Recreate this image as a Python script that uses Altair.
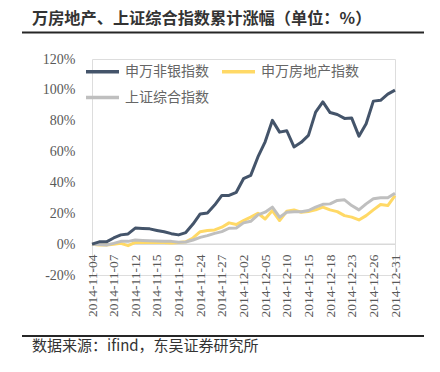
import altair as alt
import pandas as pd

dates = [
    "2014-11-04", "2014-11-05", "2014-11-06", "2014-11-07", "2014-11-10", "2014-11-11",
    "2014-11-12", "2014-11-13", "2014-11-14", "2014-11-15", "2014-11-17", "2014-11-18",
    "2014-11-19", "2014-11-20", "2014-11-21", "2014-11-24", "2014-11-25", "2014-11-26",
    "2014-11-27", "2014-11-28", "2014-12-01", "2014-12-02", "2014-12-03", "2014-12-04",
    "2014-12-05", "2014-12-08", "2014-12-09", "2014-12-10", "2014-12-11", "2014-12-12",
    "2014-12-15", "2014-12-16", "2014-12-17", "2014-12-18", "2014-12-19", "2014-12-22",
    "2014-12-23", "2014-12-24", "2014-12-25", "2014-12-26", "2014-12-29", "2014-12-30",
    "2014-12-31",
]
tick_labels = [
    "2014-11-04", "2014-11-07", "2014-11-12", "2014-11-15", "2014-11-19", "2014-11-24",
    "2014-11-27", "2014-12-02", "2014-12-05", "2014-12-10", "2014-12-15", "2014-12-18",
    "2014-12-23", "2014-12-26", "2014-12-31",
]
y_ticks = [-20, 0, 20, 40, 60, 80, 100, 120]
series_names = ["申万非银指数", "申万房地产指数", "上证综合指数"]
nonbank = [0, 1.5, 1.5, 4, 6, 6.6, 10.4, 10.2, 9.9, 8.9, 8, 6.8, 6, 7.5, 13,
           19.6, 20.2, 25.3, 31.6, 31.6, 33.6, 42.4, 44.6, 56.5, 66.3, 80.2, 72.6, 73.5,
           63, 66, 70.5, 85.6, 92.2, 85.3, 84, 81.5, 81.7, 70, 78, 92.7, 93.2, 97.2, 99.8]
realestate = [0, -0.5, -0.5, 0, 0.5, -1, 1.2, 1, 1, 1, 1, 0.8, 1, 1.5, 4,
              8.1, 8.8, 9.2, 11, 13.8, 12.7, 15.3, 17.5, 20, 16.3, 21.8, 15.3, 21.3,
              22.2, 20.7, 21.1, 22.2, 24, 22.2, 21.1, 18.5, 17.5, 15.7, 18.5, 22.2, 25.7, 25, 31.5]
shcomp = [0, -0.3, -0.5, 0.5, 1.8, 1.8, 2.7, 2.4, 2.2, 2.0, 1.9, 1.8, 1.2, 1.4, 2.7,
          4.4, 5.5, 7, 8.1, 10.3, 10.5, 13.8, 14.8, 19, 20.7, 24, 17.5, 20.7,
          21, 21, 21.8, 24, 25.8, 26.1, 28.3, 28.7, 25, 22.2, 26.1, 29.4, 30, 30, 33]
colors = ["#44546A", "#FFD966", "#BFBFBF"]

title_text = "万房地产、上证综合指数累计涨幅（单位：%）"
source_text = "数据来源：ifind，东吴证券研究所"

rows = []
for name, vals in zip(series_names, [nonbank, realestate, shcomp]):
    for d, v in zip(dates, vals):
        rows.append({"date": d, "series": name, "value": v})
df = pd.DataFrame(rows)

W, H = 303, 216
CJK = "Noto Sans CJK SC"
SERIF = "Liberation Serif"
yscale = alt.Scale(domain=[-20, 120], nice=False, zero=False)

y_axis = alt.Axis(title=None, values=y_ticks,
                  labelExpr="datum.value + '%'", grid=False, ticks=False,
                  domain=False, labelFont=SERIF, labelFontSize=14,
                  labelColor="#595959", labelPadding=17, labelOverlap=False,
                  labelBound=False, labelFlush=False)

x_enc = alt.X("date:O", sort=dates,
              scale=alt.Scale(type="point", padding=0),
              axis=alt.Axis(title=None, values=tick_labels, labelAngle=-90,
                            labelFont=SERIF, labelFontSize=13.5, labelColor="#595959",
                            ticks=False, domain=False, labelPadding=10, offset=-31,
                            labelOverlap=False))
y_enc = alt.Y("value:Q", scale=yscale, axis=y_axis)
color_enc = alt.Color("series:N",
                      scale=alt.Scale(domain=series_names, range=colors),
                      legend=alt.Legend(title=None, orient="none", legendX=-8, legendY=-6,
                                        direction="horizontal", columns=2,
                                        symbolType="stroke", symbolSize=1089,
                                        symbolStrokeWidth=3.5, labelFont=CJK,
                                        labelFontSize=14, labelColor="#666666",
                                        columnPadding=6, rowPadding=0, padding=0,
                                        labelOffset=4))

base = alt.Chart(df)

zero_rule = alt.Chart(pd.DataFrame({"value": [0]})).mark_rule(color="#D9D9D9", strokeWidth=1.5).encode(
    y=y_enc)

layers = []
for name in [series_names[1], series_names[2], series_names[0]]:
    layers.append(
        base.transform_filter(alt.datum.series == name)
        .mark_line(strokeWidth=3, strokeJoin="round")
        .encode(x=x_enc, y=y_enc, color=color_enc)
    )

top_rule = alt.Chart(pd.DataFrame({"a": [0]})).mark_rule(color="#262626", strokeWidth=2).encode(
    x=alt.value(-70), x2=alt.value(332), y=alt.value(-26.5))
bottom_rule = alt.Chart(pd.DataFrame({"a": [0]})).mark_rule(color="#262626", strokeWidth=2).encode(
    x=alt.value(-70), x2=alt.value(332), y=alt.value(277))
title_mark = alt.Chart(pd.DataFrame({"t": [title_text]})).mark_text(
    font=CJK, fontSize=16.2, fontWeight="bold", color="#333333", align="left", baseline="middle"
).encode(x=alt.value(-60), y=alt.value(-40.5), text="t:N")
source_mark = alt.Chart(pd.DataFrame({"t": [source_text]})).mark_text(
    font=CJK, fontSize=15, color="#333333", align="left", baseline="middle"
).encode(x=alt.value(-60), y=alt.value(286.5), text="t:N")

chart = alt.layer(zero_rule, *layers, top_rule, bottom_rule, title_mark, source_mark).properties(
    width=W, height=H,
    autosize=alt.AutoSizeParams(type="none"),
    padding={"left": 84, "top": 51, "right": 37, "bottom": 89},
).configure_view(stroke=None).configure_axisY(
    labelFont=SERIF, labelFontSize=14, labelColor="#595959"
).configure(background="white")

chart.save("out.html", embed_options={"renderer": "svg", "actions": False})
